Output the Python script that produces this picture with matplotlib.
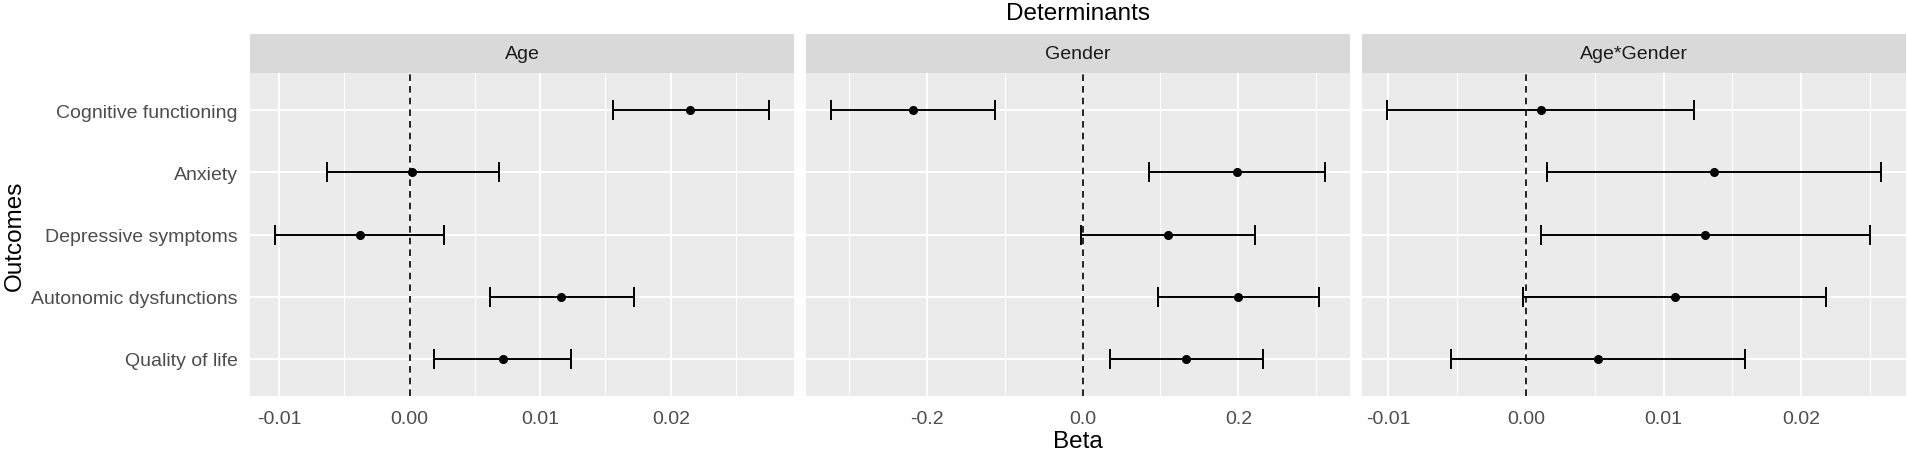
import numpy as np
import matplotlib
matplotlib.use("Agg")
import matplotlib.pyplot as plt

plt.rcParams["font.family"] = ["Liberation Sans", "DejaVu Sans"]

outcomes = ["Cognitive functioning", "Anxiety", "Depressive symptoms",
            "Autonomic dysfunctions", "Quality of life"]
determinants = ["Age", "Gender", "Age*Gender"]

# beta estimates with lower / upper confidence limits, one list per determinant
age_beta = [0.02148, 0.00016, -0.00381, 0.01161, 0.00719]
age_lo = [0.01555, -0.00635, -0.01032, 0.00619, 0.00187]
age_hi = [0.02754, 0.00684, 0.00265, 0.01716, 0.01239]

gender_beta = [-0.2178, 0.1979, 0.1094, 0.2000, 0.1325]
gender_lo = [-0.3236, 0.0848, -0.0016, 0.0974, 0.0356]
gender_hi = [-0.1126, 0.3117, 0.2209, 0.3034, 0.2314]

inter_beta = [0.00107, 0.01370, 0.01300, 0.01086, 0.00527]
inter_lo = [-0.01012, 0.00154, 0.00107, -0.00020, -0.00547]
inter_hi = [0.01219, 0.02583, 0.02500, 0.02183, 0.01589]

age_ticks = [-0.01, 0.00, 0.01, 0.02]
age_ticklabels = ["-0.01", "0.00", "0.01", "0.02"]
gender_ticks = [-0.2, 0.0, 0.2]
gender_ticklabels = ["-0.2", "0.0", "0.2"]
inter_ticks = [-0.01, 0.00, 0.01, 0.02]
inter_ticklabels = ["-0.01", "0.00", "0.01", "0.02"]

panels = [
    (age_beta, age_lo, age_hi, age_ticks, age_ticklabels),
    (gender_beta, gender_lo, gender_hi, gender_ticks, gender_ticklabels),
    (inter_beta, inter_lo, inter_hi, inter_ticks, inter_ticklabels),
]

W, H = 1908, 456
fig = plt.figure(figsize=(W / 100, H / 100), dpi=100)

PANEL_BG = "#EBEBEB"
STRIP_BG = "#D9D9D9"
TICK_COL = "#4D4D4D"

lefts = [250, 806, 1362]
pw = 544
p_top, p_bot = 74, 397
s_top = 35

y = np.arange(len(outcomes))[::-1] + 1  # first outcome at top

for k, (beta, lo, hi, ticks, tlabels) in enumerate(panels):
    beta, lo, hi = np.array(beta), np.array(lo), np.array(hi)
    x0 = lefts[k]
    ax = fig.add_axes([x0 / W, (H - p_bot) / H, pw / W, (p_bot - p_top) / H])
    ax.set_facecolor(PANEL_BG)
    for sp in ax.spines.values():
        sp.set_visible(False)

    dmin, dmax = lo.min(), hi.max()
    rng = dmax - dmin
    ax.set_xlim(dmin - 0.05 * rng, dmax + 0.05 * rng)
    ax.set_ylim(0.4, len(outcomes) + 0.6)

    # grid: major at ticks and categories, minor halfway between ticks
    step = ticks[1] - ticks[0]
    minors = np.arange(ticks[0] - step / 2, ticks[-1] + step, step)
    for m in minors:
        ax.axvline(m, color="white", lw=0.8, zorder=0)
    for t in ticks:
        ax.axvline(t, color="white", lw=1.5, zorder=0)
    for yy in y:
        ax.axhline(yy, color="white", lw=1.5, zorder=0)

    ax.axvline(0, color="black", lw=1.2, ls=(0, (4, 3)), zorder=1)

    ax.errorbar(beta, y, xerr=[beta - lo, hi - beta], fmt="o", color="black",
                ms=5.5, lw=1.4, capsize=7.5, capthick=1.4, zorder=3)

    ax.set_xticks(ticks)
    ax.set_xticklabels(tlabels)
    ax.tick_params(axis="both", length=0, labelsize=14, colors=TICK_COL, pad=10)
    if k == 0:
        ax.set_yticks(y)
        ax.set_yticklabels(outcomes)
        ax.tick_params(axis="y", pad=9)
    else:
        ax.set_yticks([])

    # facet strip
    sax = fig.add_axes([x0 / W, (H - p_top) / H, pw / W, (p_top - s_top) / H])
    sax.set_facecolor(STRIP_BG)
    sax.set_xticks([]); sax.set_yticks([])
    for sp in sax.spines.values():
        sp.set_visible(False)
    sax.text(0.5, 0.5, determinants[k], ha="center", va="center",
             fontsize=14, color="#1A1A1A", transform=sax.transAxes)

    if k == 1:
        ax.set_xlabel("Beta", fontsize=17.5, color="black", labelpad=2)

fig.text(15 / W, 1 - (p_top + p_bot) / 2 / H, "Outcomes", rotation=90,
         ha="center", va="center", fontsize=17.5, color="black")
fig.text((lefts[1] + pw / 2) / W, 1 - 14 / H, "Determinants", ha="center",
         va="center", fontsize=17.5, color="black")

fig.savefig("out.png", dpi=100)
